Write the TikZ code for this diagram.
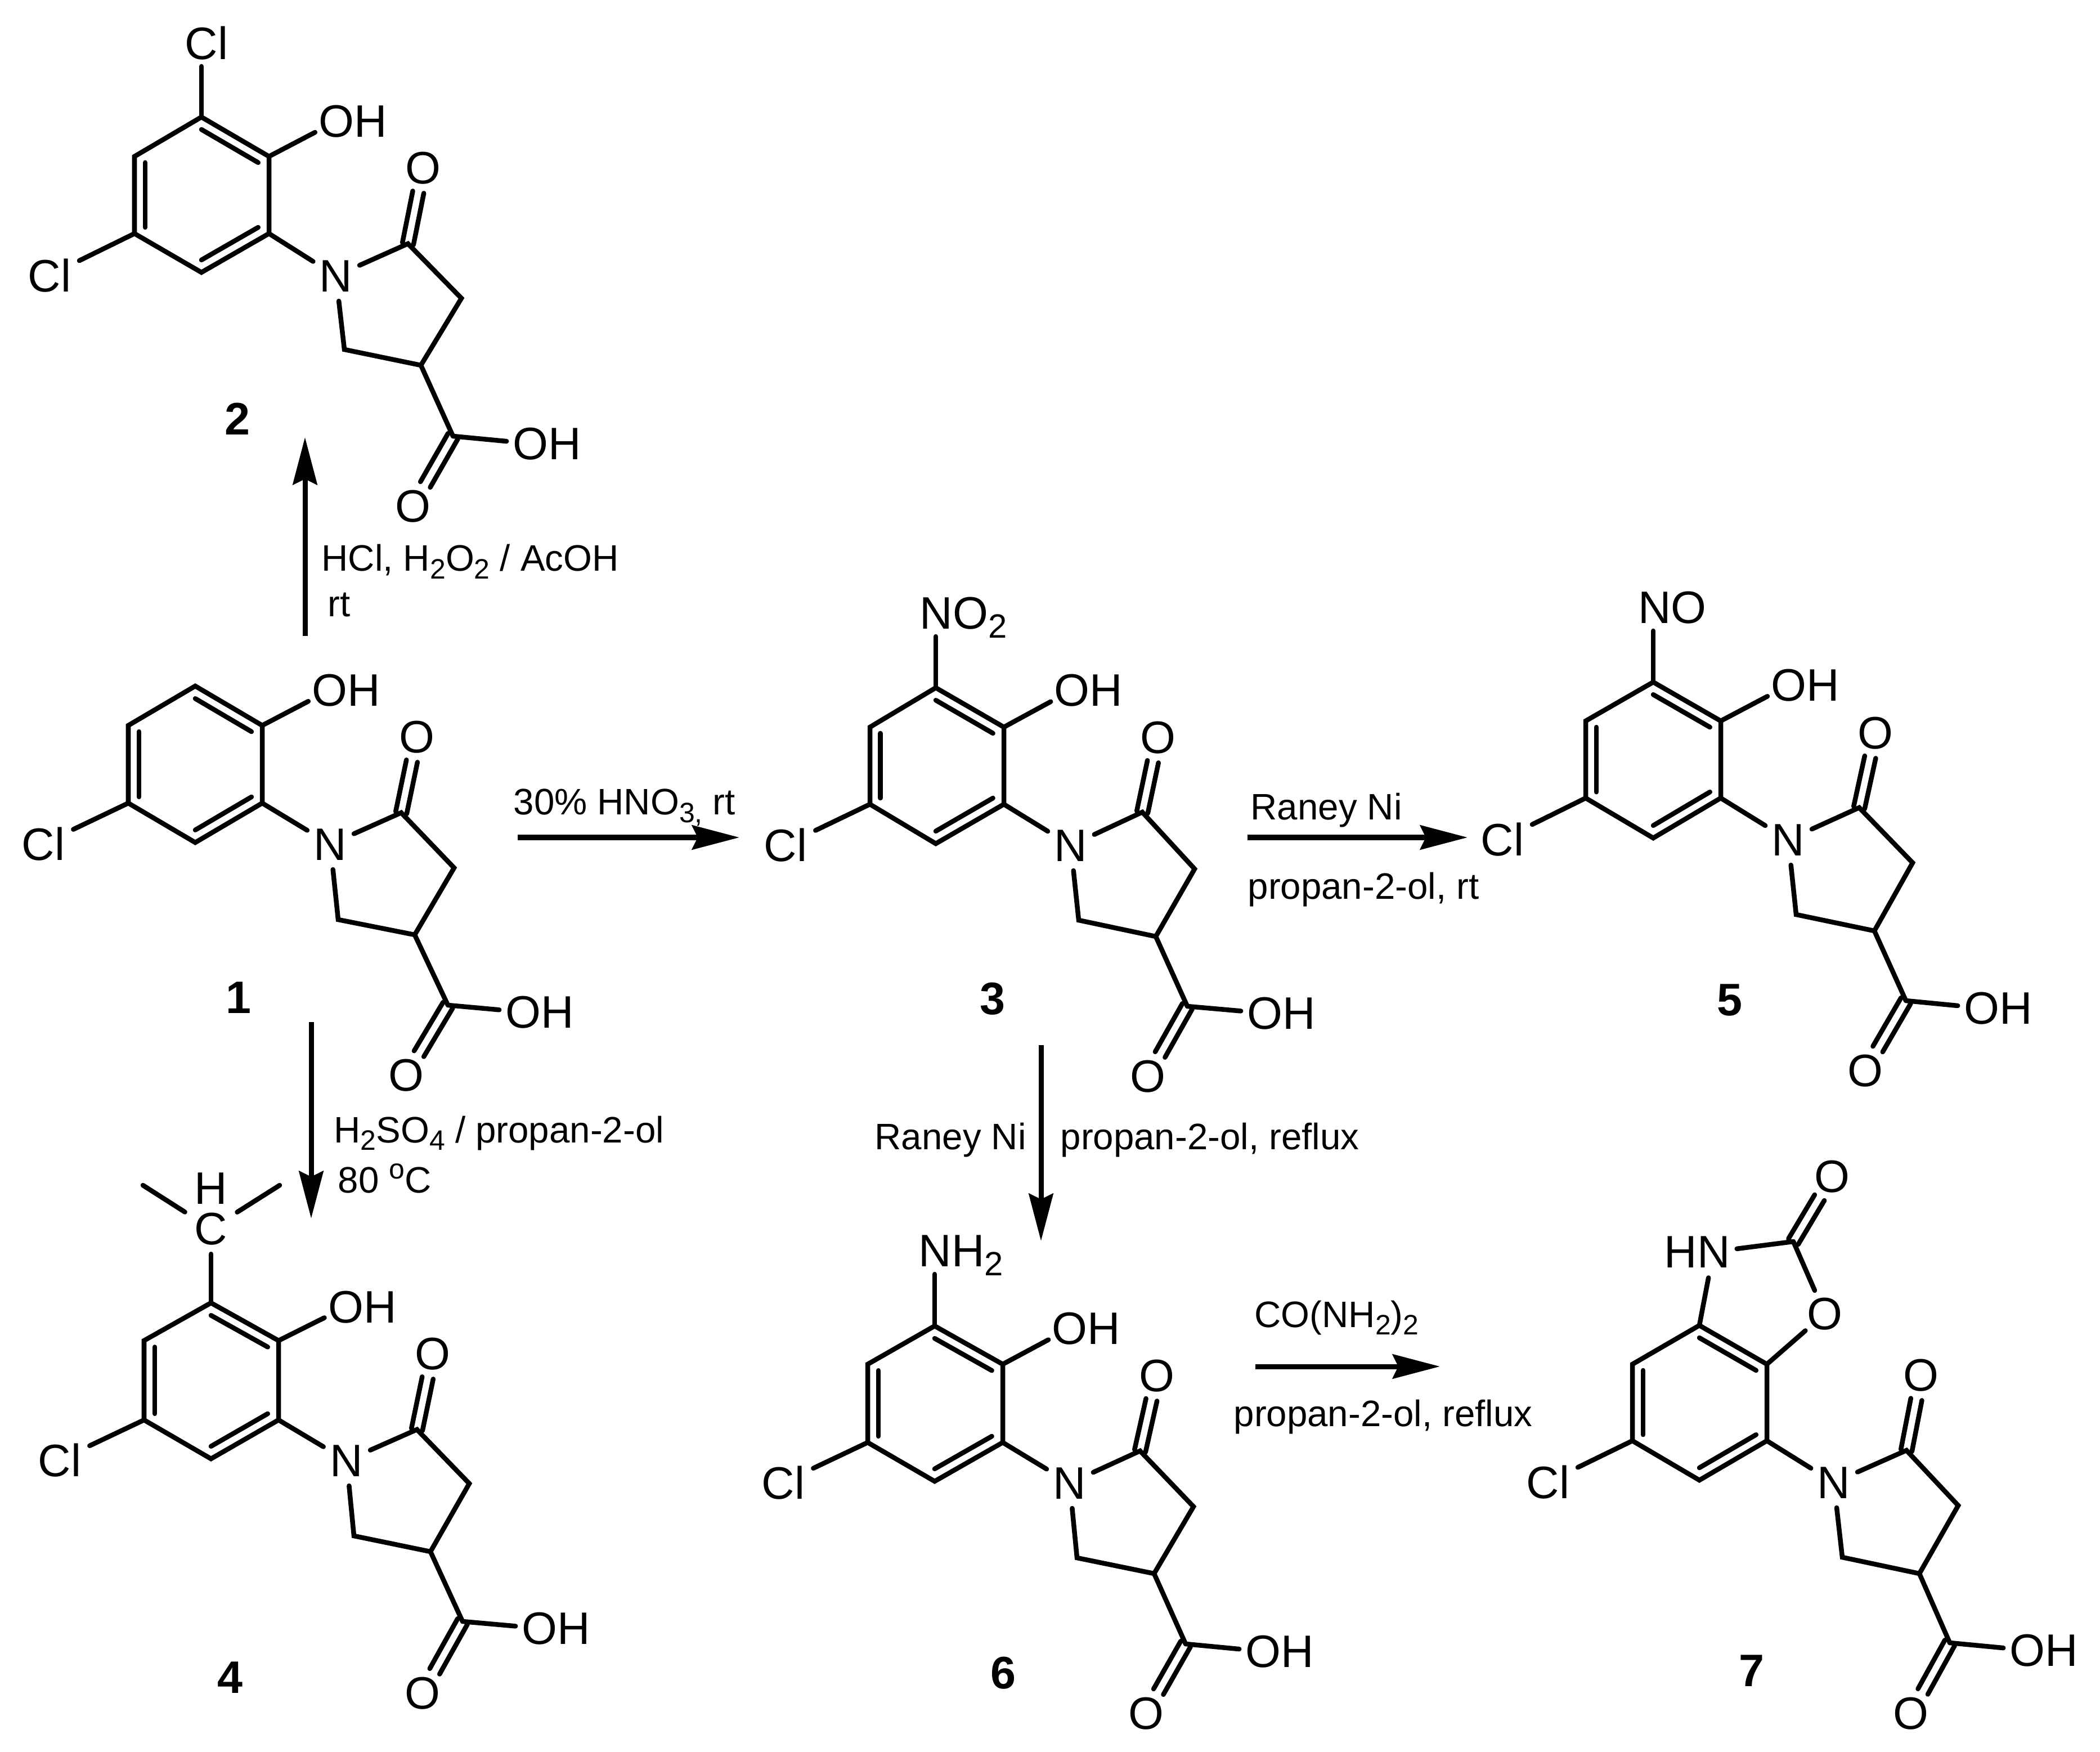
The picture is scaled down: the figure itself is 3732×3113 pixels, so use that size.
\documentclass[tikz,border=0pt]{standalone}
\usepackage{fontspec}
\setmainfont{Liberation Sans}
\usetikzlibrary{calc,arrows.meta}
\newcommand\atomfont{\fontsize{23}{27}\selectfont}
\newcommand\rgfont{\fontsize{18.6}{22}\selectfont}
\newcommand\asub[1]{\raisebox{-.16cm}{\fontsize{17}{19}\selectfont #1}}
\newcommand\rsub[1]{\raisebox{-.13cm}{\fontsize{14.2}{16}\selectfont #1}}
\tikzset{
  bond/.style={line width=.085cm,line cap=round,miter limit=10},
  rxn/.style={line width=.09cm,-{Stealth[length=.84cm,width=.43cm,inset=.1cm]}},
  atom/.style={inner sep=0,anchor=base,yshift=-.29cm,font=\atomfont},
  atomw/.style={inner sep=0,anchor=base west,yshift=-.29cm,font=\atomfont},
  rg/.style={inner sep=0,anchor=base west,font=\rgfont},
  num/.style={inner sep=0,anchor=center,font=\fontsize{23}{26}\selectfont\bfseries}
}
% vertices of one molecule
\newcommand\mol[2]{\foreach \n/\x/\y in {#2} {\coordinate (#1\n) at (\x,\y);}}
% atom labels shared by all molecules
\newcommand\labels[6]{%
  \node[atom] (#1Cl) at (#2) {Cl};
  \node[atom] (#1N) at (#3) {N};
  \node[atom] (#1Oa) at (#4) {O};
  \node[atom] (#1acid) at (#5) {OH};
  \node[atom] (#1Ob) at (#6) {O};
}
% C=O drawn as two parallel lines from a vertex to a label
\newcommand\dbl[2]{%
  \draw[bond,shorten >=.44cm] ($(#1)!.1cm!90:(#2.center)$) -- ($(#2.center)!.1cm!-90:(#1)$);
  \draw[bond,shorten >=.44cm] ($(#1)!.1cm!-90:(#2.center)$) -- ($(#2.center)!.1cm!90:(#1)$);
}
\newcommand\core[1]{%
  \coordinate (#1r) at ($(#1a)!.5!(#1d)$);
  \draw[bond] (#1a)--(#1b)--(#1c)--(#1d)--(#1e)--(#1f)--cycle;
  \draw[bond] ($(#1r)!.84!(#1a)$)--($(#1r)!.84!(#1b)$);
  \draw[bond] ($(#1r)!.84!(#1c)$)--($(#1r)!.84!(#1d)$);
  \draw[bond] ($(#1r)!.84!(#1e)$)--($(#1r)!.84!(#1f)$);
  \draw[bond,shorten >=.59cm] (#1e)--(#1Cl.center);
  \draw[bond,shorten >=.48cm] (#1c)--(#1N.center);
  \draw[bond,shorten <=.46cm,shorten >=.45cm] (#1N.center)--(#1g)--(#1h)--(#1i)--(#1j)--(#1N.center);
  \dbl{#1g}{#1Oa}
  \draw[bond] (#1i)--(#1k);
  \draw[bond,shorten >=.43cm] (#1k)--($(#1acid.center)+(-29,0)$);
  \dbl{#1k}{#1Ob}
}
\newcommand\phenol[2]{%
  \node[atom] (#1oh) at (#2) {OH};
  \draw[bond,shorten >=.43cm] (#1b)--($(#1oh.center)+(-29,0)$);
}
\begin{document}
\begin{tikzpicture}[x=.01cm,y=-.01cm]
\path[fill=white,use as bounding box] (0,0) rectangle (3732,3113);

% ---------- molecule 1
\mol{1}{a/347/1219,b/466/1289,c/466/1427,d/347/1497,e/228/1427,f/228/1289,g/713/1444,h/807/1542,i/737/1661,j/601/1634,k/796/1786}
\labels{1}{77,1499}{587,1499}{741,1308}{959,1797}{722,1909}
\core{1}
\phenol{1}{615,1225}
\node[num] (n1) at (424,1773) {1};

% ---------- molecule 2
\mol{2}{a/358/208,b/478/278,c/478/415,d/358/484,e/239/415,f/239/278,g/725/433,h/820/530,i/748/649,j/612/621,k/805/775,t/358/118}
\labels{2}{88,489}{597,489}{752,297}{972,787}{734,898}
\core{2}
\phenol{2}{627,214}
\node[atom] (2Clt) at (367,76) {Cl};
\draw[bond] (2a)--(2t);
\node[num] (n2) at (422,744) {2};

% ---------- molecule 3
\mol{3}{a/1663/1222,b/1784/1292,c/1784/1429,d/1663/1499,e/1546/1429,f/1546/1292,g/2030/1443,h/2123/1544,i/2054/1664,j/1917/1635,k/2110/1788,t/1663/1131}
\labels{3}{1396,1501}{1903,1501}{2058,1309}{2277,1799}{2040,1911}
\core{3}
\phenol{3}{1934,1225}
\node[atomw] (3no) at (1634,1088) {NO\asub{2}};
\draw[bond] (3a)--(3t);
\node[num] (n3) at (1764,1775) {3};

% ---------- molecule 4
\mol{4}{a/375/2315,b/495/2382,c/495/2523,d/375/2592,e/256/2523,f/256/2382,g/741/2540,h/834/2636,i/765/2757,j/629/2729,k/822/2881,ml/254/2106,mr/497/2106}
\labels{4}{106,2594}{616,2594}{769,2404}{988,2892}{751,3007}
\core{4}
\phenol{4}{644,2321}
\node[atom] (4C) at (375,2182) {C};
\node[atom] (4H) at (375,2110) {H};
\draw[bond,shorten >=.45cm] (4a)--(4C.center);
\draw[bond,shorten <=.55cm] (4C.center)--(4ml);
\draw[bond,shorten <=.55cm] (4C.center)--(4mr);
\node[num] (n4) at (409,2981) {4};

% ---------- molecule 5
\mol{5}{a/2938/1212,b/3058/1281,c/3058/1418,d/2938/1489,e/2818/1418,f/2818/1281,g/3304/1435,h/3399/1533,i/3331/1654,j/3192/1625,k/3387/1778,t/2938/1121}
\labels{5}{2670,1491}{3178,1491}{3333,1301}{3551,1790}{3315,1901}
\core{5}
\phenol{5}{3208,1216}
\node[atom] (5no) at (2972,1078) {NO};
\draw[bond] (5a)--(5t);
\node[num] (n5) at (3074,1777) {5};

% ---------- molecule 6
\mol{6}{a/1661/2356,b/1782/2424,c/1782/2563,d/1661/2632,e/1542/2563,f/1542/2424,g/2026/2578,h/2121/2677,i/2051/2796,j/1914/2768,k/2107/2921,t/1661/2264}
\labels{6}{1392,2634}{1901,2634}{2056,2443}{2274,2933}{2037,3043}
\core{6}
\phenol{6}{1930,2359}
\node[atomw] (6nh) at (1632,2221) {NH\asub{2}};
\draw[bond] (6a)--(6t);
\node[num] (n6) at (1783,2973) {6};

% ---------- molecule 7
\mol{7}{a/3020/2355,b/3140/2424,c/3140/2560,d/3020/2630,e/2901/2560,f/2901/2424,g/3388/2577,h/3480/2675,i/3411/2796,j/3274/2767,k/3465/2919,u/3187/2206}
\labels{7}{2751,2633}{3259,2633}{3414,2442}{3632,2931}{3396,3043}
\core{7}
\node[atom] (7hn) at (3016,2223) {HN};
\node[atom] (7Oc) at (3243,2333) {O};
\node[atom] (7Ot) at (3256,2089) {O};
\draw[bond,shorten >=.47cm] (7a)--($(7hn.center)+(29,0)$);
\draw[bond,shorten >=.42cm] (7u)--($(7hn.center)+(29,0)$);
\draw[bond,shorten >=.45cm] (7u)--(7Oc.center);
\draw[bond,shorten >=.46cm] (7b)--(7Oc.center);
\dbl{7u}{7Ot}
\node[num] (n7) at (3113,2969) {7};

% ---------- reaction arrows
\coordinate (r2s) at (542,1130); \coordinate (r2e) at (542,777);
\draw[rxn] (r2s)--(r2e);
\coordinate (r4s) at (553,1816); \coordinate (r4e) at (553,2165);
\draw[rxn] (r4s)--(r4e);
\coordinate (r3s) at (920,1488); \coordinate (r3e) at (1314,1488);
\draw[rxn] (r3s)--(r3e);
\coordinate (r5s) at (2217,1488); \coordinate (r5e) at (2608,1488);
\draw[rxn] (r5s)--(r5e);
\coordinate (r6s) at (1850,1857); \coordinate (r6e) at (1850,2205);
\draw[rxn] (r6s)--(r6e);
\coordinate (r7s) at (2231,2428); \coordinate (r7e) at (2559,2428);
\draw[rxn] (r7s)--(r7e);

% ---------- reagents
\node[rg] (t2a) at (571,1015) {HCl, H\rsub{2}O\rsub{2} / AcOH};
\node[rg] (t2b) at (582,1096) {rt};
\node[rg] (t3a) at (912,1448) {30\% HNO\rsub{3,} rt};
\node[rg] (t4a) at (593,2030) {H\rsub{2}SO\rsub{4} / propan-2-ol};
\node[rg] (t4b) at (600,2119) {80 \raisebox{.24cm}{\fontsize{14.2}{16}\selectfont o}C};
\node[rg] (t5a) at (2222,1456) {Raney Ni};
\node[rg] (t5b) at (2217,1597) {propan-2-ol, rt};
\node[rg] (t6a) at (1554,2042) {Raney Ni};
\node[rg] (t6b) at (1884,2042) {propan-2-ol, reflux};
\node[rg] (t7a) at (2229,2358) {CO(NH\rsub{2})\rsub{2}};
\node[rg] (t7b) at (2192,2534) {propan-2-ol, reflux};
\end{tikzpicture}
\end{document}
